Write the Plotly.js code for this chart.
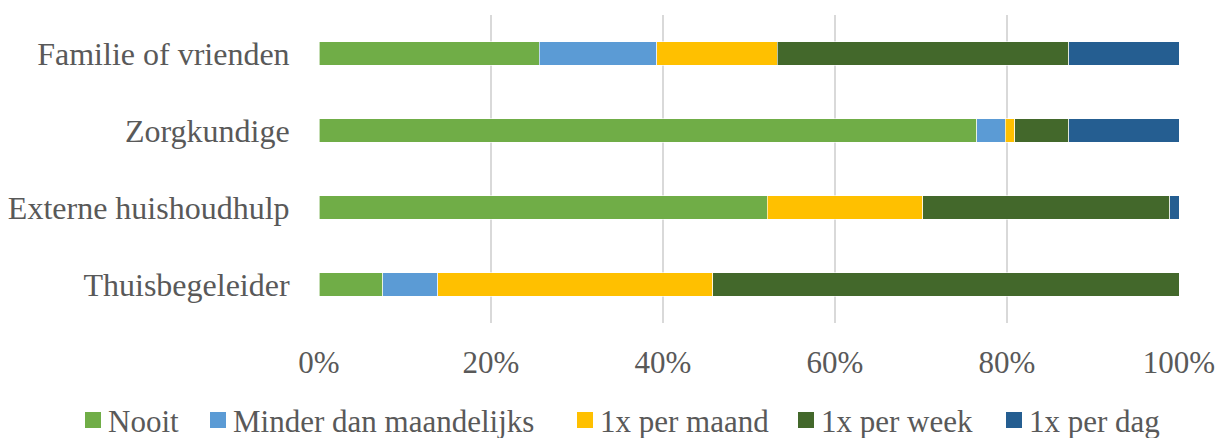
<!DOCTYPE html>
<html>
<head>
<meta charset="utf-8">
<script src="https://cdn.plot.ly/plotly-3.0.1.min.js"></script>
<style>html,body{margin:0;padding:0;background:#fff;}#chart{width:1223px;height:438px;}</style>
</head>
<body>
<div id="chart"></div>
<script>
const categories = ["Familie of vrienden", "Zorgkundige", "Externe huishoudhulp", "Thuisbegeleider"];
const seriesNames = ["Nooit", "Minder dan maandelijks", "1x per maand", "1x per week", "1x per dag"];
const nooit = [25.6, 76.5, 52.1, 7.4];
const minderDanMaandelijks = [13.7, 3.3, 0.0, 6.4];
const perMaand = [14.0, 1.1, 18.1, 32.0];
const perWeek = [33.9, 6.3, 28.7, 54.2];
const perDag = [12.8, 12.8, 1.1, 0.0];
const tickVals = [0, 20, 40, 60, 80, 100];
const tickLabels = ["0%", "20%", "40%", "60%", "80%", "100%"];
const colors = ["#70AD47", "#5B9BD5", "#FFC000", "#43682B", "#255E91"];

const W = 1223, H = 438;
const M = {l: 319, r: 44, t: 15, b: 115};
const plotW = W - M.l - M.r, plotH = H - M.t - M.b;
const px2x = px => (px - M.l) / plotW;
const py2y = py => (H - M.b - py) / plotH;

// legend layout (pixel positions of each entry's swatch, left edge)
const legendSwatchLeft = [85, 210, 577, 798, 1006];
const legendCenterY = 420;
const swatch = 16;

const values = [nooit, minderDanMaandelijks, perMaand, perWeek, perDag];
const traces = values.map((v, i) => ({
  type: 'bar',
  orientation: 'h',
  name: seriesNames[i],
  y: categories,
  x: v,
  marker: {color: colors[i], line: {color: '#ffffff', width: 0.6}},
  hoverinfo: 'x+y+name'
}));

const shapes = seriesNames.map((n, i) => ({
  type: 'rect', xref: 'paper', yref: 'paper',
  x0: px2x(legendSwatchLeft[i]), x1: px2x(legendSwatchLeft[i] + swatch),
  y0: py2y(legendCenterY + swatch / 2), y1: py2y(legendCenterY - swatch / 2),
  fillcolor: colors[i], line: {width: 0}
}));
const annotations = seriesNames.map((n, i) => ({
  text: n, xref: 'paper', yref: 'paper',
  x: px2x(legendSwatchLeft[i] + swatch + 5), y: py2y(legendCenterY + 1),
  xanchor: 'left', yanchor: 'middle', showarrow: false,
  font: {size: 31, color: '#595959'}
}));

const layout = {
  width: W, height: H,
  barmode: 'stack',
  bargap: 0.69,
  margin: M,
  paper_bgcolor: '#fff', plot_bgcolor: '#fff',
  font: {family: '"Liberation Serif", "Times New Roman", serif', color: '#595959', size: 31},
  xaxis: {
    range: [0, 100],
    tickvals: tickVals, ticktext: tickLabels,
    showgrid: true, gridcolor: '#d9d9d9', gridwidth: 1.5,
    zeroline: false, showline: false,
    ticks: 'outside', ticklen: 12, tickcolor: 'rgba(0,0,0,0)',
    tickfont: {size: 31, color: '#595959'},
    fixedrange: true
  },
  yaxis: {
    autorange: 'reversed',
    type: 'category',
    showgrid: false, zeroline: false, showline: false,
    ticks: 'outside', ticklen: 22, tickcolor: 'rgba(0,0,0,0)',
    tickfont: {size: 32, color: '#595959'},
    fixedrange: true
  },
  showlegend: false,
  shapes: shapes,
  annotations: annotations
};

Plotly.newPlot('chart', traces, layout, {displayModeBar: false, staticPlot: true});
</script>
</body>
</html>
